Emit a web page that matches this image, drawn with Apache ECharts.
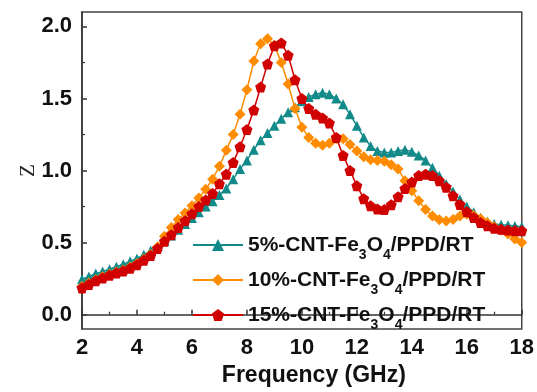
<!DOCTYPE html>
<html><head><meta charset="utf-8">
<script src="https://cdn.jsdelivr.net/npm/echarts@6/dist/echarts.min.js"></script>
<style>html,body{margin:0;padding:0;background:#fff}#c{width:537px;height:392px}</style>
</head><body><div id="c"></div>
<script>
const freq = [2,2.25,2.5,2.75,3,3.25,3.5,3.75,4,4.25,4.5,4.75,5,5.25,5.5,5.75,6,6.25,6.5,6.75,7,7.25,7.5,7.75,8,8.25,8.5,8.75,9,9.25,9.5,9.75,10,10.25,10.5,10.75,11,11.25,11.5,11.75,12,12.25,12.5,12.75,13,13.25,13.5,13.75,14,14.25,14.5,14.75,15,15.25,15.5,15.75,16,16.25,16.5,16.75,17,17.25,17.5,17.75,18];
const z5 = [0.245,0.265,0.285,0.30,0.315,0.333,0.35,0.37,0.39,0.415,0.445,0.475,0.51,0.55,0.59,0.63,0.67,0.71,0.75,0.787,0.83,0.875,0.94,1.01,1.07,1.145,1.21,1.26,1.31,1.36,1.405,1.44,1.48,1.51,1.53,1.54,1.53,1.50,1.46,1.39,1.31,1.23,1.17,1.135,1.125,1.125,1.135,1.145,1.13,1.105,1.07,1.02,0.964,0.907,0.855,0.80,0.75,0.71,0.673,0.646,0.63,0.624,0.62,0.615,0.61];
const z10 = [0.195,0.22,0.243,0.263,0.28,0.297,0.31,0.33,0.355,0.385,0.42,0.47,0.545,0.605,0.66,0.705,0.755,0.81,0.87,0.94,1.03,1.14,1.25,1.39,1.56,1.76,1.88,1.915,1.87,1.75,1.60,1.43,1.30,1.23,1.19,1.175,1.19,1.22,1.22,1.18,1.135,1.095,1.075,1.07,1.065,1.04,1.01,0.93,0.86,0.79,0.73,0.685,0.658,0.65,0.66,0.685,0.696,0.688,0.665,0.637,0.61,0.585,0.56,0.525,0.50];
const z15 = [0.186,0.21,0.235,0.255,0.273,0.29,0.303,0.322,0.347,0.377,0.41,0.46,0.51,0.555,0.605,0.652,0.70,0.75,0.795,0.84,0.908,0.975,1.055,1.165,1.285,1.42,1.58,1.74,1.865,1.885,1.80,1.63,1.50,1.43,1.39,1.365,1.33,1.23,1.105,1.0,0.895,0.805,0.755,0.733,0.73,0.763,0.818,0.875,0.92,0.965,0.975,0.965,0.93,0.885,0.825,0.765,0.715,0.675,0.64,0.617,0.60,0.593,0.587,0.583,0.582];
const seriesNames = ['5%-CNT-Fe3O4/PPD/RT','10%-CNT-Fe3O4/PPD/RT','15%-CNT-Fe3O4/PPD/RT'];
const legendPrefix = ['5%','10%','15%'];
const yMajor = [0,0.5,1,1.5,2];
const yMinor = [0.25,0.75,1.25,1.75];

const pent = 'path://M0,-1 L0.951,-0.309 L0.588,0.809 L-0.588,0.809 L-0.951,-0.309 Z';
const colors = ['#138A8A','#FF8C00','#D00000'];
const symbols = ['triangle','diamond',pent];
const sizes = [10,11,11];
const datas = [z5,z10,z15];
const font = 'Liberation Sans, Arial, sans-serif';

const chart = echarts.init(document.getElementById('c'));
chart.setOption({
  animation:false,
  backgroundColor:'#fff',
  grid:{left:82,right:14,top:12,bottom:57,show:true,borderColor:'#444',borderWidth:1.5,backgroundColor:'transparent'},
  legend:{
    orient:'vertical',left:187,top:223,itemWidth:50,itemHeight:15,itemGap:1,
    data:seriesNames,
    formatter:function(name){
      const i = seriesNames.indexOf(name);
      return '{m|'+legendPrefix[i]+'-CNT-Fe}{s|3}{m|O}{s|4}{m|/PPD/RT}';
    },
    textStyle:{
      rich:{
        m:{fontFamily:font,fontWeight:'bold',fontSize:21,color:'#111',lineHeight:26},
        s:{fontFamily:font,fontWeight:'bold',fontSize:14,color:'#111',lineHeight:26,padding:[20,0,0,0]}
      }
    }
  },
  xAxis:{
    type:'value',min:2,max:18,interval:2,
    name:'Frequency (GHz)',nameLocation:'middle',nameGap:27,
    nameTextStyle:{fontFamily:font,fontWeight:'bold',fontSize:23,color:'#111',padding:[0,0,0,24]},
    axisLine:{lineStyle:{color:'#333',width:1.5}},
    axisTick:{inside:true,length:5,lineStyle:{color:'#333',width:1.5}},
    minorTick:{show:true,splitNumber:2,length:3,lineStyle:{color:'#333',width:1.2}},
    axisLabel:{fontFamily:font,fontWeight:'bold',fontSize:22,color:'#111',margin:8},
    splitLine:{show:false}
  },
  yAxis:[{
    type:'value',min:-0.1,max:2.1,
    name:'Z',nameLocation:'middle',nameGap:43,nameMoveOverlap:false,
    nameTextStyle:{fontFamily:'Liberation Serif, serif',fontSize:21,color:'#222'},
    axisLine:{lineStyle:{color:'#333',width:1.5}},
    axisTick:{inside:true,length:5,customValues:yMajor,lineStyle:{color:'#333',width:1.5}},
    axisLabel:{fontFamily:font,fontWeight:'bold',fontSize:22,color:'#111',margin:10,customValues:yMajor,formatter:v=>v.toFixed(1)},
    splitLine:{show:false}
  },{
    type:'value',min:-0.1,max:2.1,position:'left',
    axisLine:{show:false},
    axisTick:{show:true,inside:true,length:3,customValues:yMinor,lineStyle:{color:'#333',width:1.2}},
    axisLabel:{show:false},
    splitLine:{show:false}
  }],
  series:datas.map((d,i)=>({
    name:seriesNames[i],type:'line',yAxisIndex:0,
    data:freq.map((f,j)=>[f,d[j]]),
    symbol:symbols[i],symbolSize:sizes[i],showAllSymbol:true,
    lineStyle:{color:colors[i],width:1.5},
    itemStyle:{color:colors[i]},
    z:2+i
  }))
});
</script></body></html>
